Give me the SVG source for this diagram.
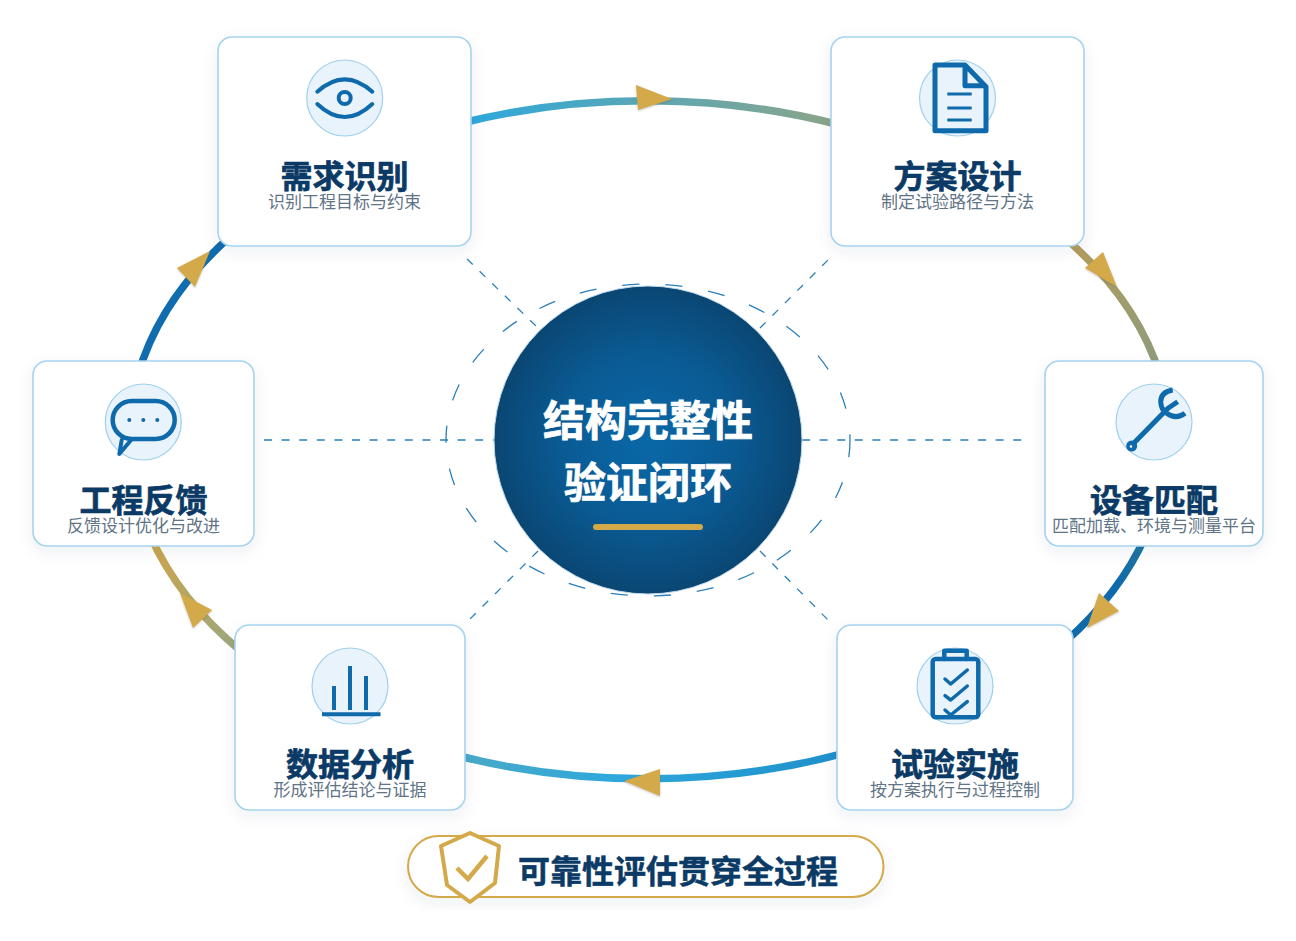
<svg xmlns="http://www.w3.org/2000/svg" width="1296" height="941" viewBox="0 0 1296 941">
<style>
text{font-family:"Noto Sans CJK SC","Noto Sans",sans-serif;text-anchor:middle}
.card{fill:#fff;stroke:#a6d3ee;stroke-width:1.6;filter:url(#sh)}
.disc{fill:#e8f3fb;stroke:#9fd0ee;stroke-width:1.2}
.t{font-size:32px;font-weight:700;fill:#0b3a66;stroke:#0b3a66;stroke-width:.7}
.c{font-size:42px;font-weight:700;fill:#fff;stroke:#fff;stroke-width:.7}
.s{font-size:17px;fill:#5f7486}
.ic{fill:none;stroke:#0f6aac;stroke-width:4;stroke-linecap:round;stroke-linejoin:round}
.arc{fill:none;stroke-width:7.5}
.dash{fill:none;stroke:#2a7fba;stroke-width:1.3;stroke-dasharray:8 9.6}
.ring{stroke-dasharray:17.2 26}
.head{fill:#d4a94a;filter:url(#hs)}
</style>
<defs>
<filter id="sh" x="-15%" y="-15%" width="130%" height="135%"><feDropShadow dx="0" dy="5" stdDeviation="8" flood-color="#0b3a66" flood-opacity=".07"/></filter>
<filter id="hs" x="-20%" y="-20%" width="140%" height="140%"><feDropShadow dx="0" dy="1" stdDeviation="1" flood-color="#555" flood-opacity=".35"/></filter>
<radialGradient id="core"><stop offset="0" stop-color="#0a68a8"/><stop offset=".55" stop-color="#0a5b94"/><stop offset="1" stop-color="#0a4673"/></radialGradient>
<linearGradient id="g1" gradientUnits="userSpaceOnUse" x1="472" y1="120" x2="830" y2="120"><stop offset="0" stop-color="#2ea8dc"/><stop offset="1" stop-color="#8aa58a"/></linearGradient>
<linearGradient id="g2" gradientUnits="userSpaceOnUse" x1="1073" y1="245" x2="1155" y2="360"><stop offset="0" stop-color="#b39c5c"/><stop offset="1" stop-color="#8f9c7c"/></linearGradient>
<linearGradient id="g3" gradientUnits="userSpaceOnUse" x1="1142" y1="546" x2="1073" y2="635"><stop offset="0" stop-color="#21749f"/><stop offset=".4" stop-color="#0f6aac"/><stop offset="1" stop-color="#0f6aac"/></linearGradient>
<linearGradient id="g4" gradientUnits="userSpaceOnUse" x1="840" y1="770" x2="465" y2="770"><stop offset="0" stop-color="#1e90cb"/><stop offset=".6" stop-color="#2ea8dc"/><stop offset="1" stop-color="#4aa9c8"/></linearGradient>
<linearGradient id="g5" gradientUnits="userSpaceOnUse" x1="234" y1="645" x2="154" y2="546"><stop offset="0" stop-color="#9ca87c"/><stop offset="1" stop-color="#cba44c"/></linearGradient>
</defs>
<rect width="1296" height="941" fill="#fff"/>
<g id="connectors">
<path class="dash" d="M264 440H494M802 440H1030M467 259L538 328M760 328L830 258M538 551L467 622M760 551L832 624"/>
<ellipse class="dash ring" cx="648" cy="440" rx="202" ry="156"/>
<path class="arc" stroke="url(#g1)" d="M462 123A520 339 0 0 1 840 125"/>
<path class="arc" stroke="url(#g2)" d="M1065 238A520 339 0 0 1 1160 375"/>
<path class="arc" stroke="url(#g3)" d="M1146 535A520 339 0 0 1 1065 642"/>
<path class="arc" stroke="url(#g4)" d="M845 753A520 339 0 0 1 455 755"/>
<path class="arc" stroke="url(#g5)" d="M242 652A520 339 0 0 1 150 535"/>
<path class="arc" stroke="#0f6cae" d="M138 375A520 339 0 0 1 232 235"/>
<polygon class="head" points="636,85 672,99 638,110"/>
<polygon class="head" points="1103,252 1085,268 1117,287"/>
<polygon class="head" points="1099,593 1119,611 1087,628"/>
<polygon class="head" points="660,769 624,781 660,796"/>
<polygon class="head" points="180,593 212,610 193,628"/>
<polygon class="head" points="177,268 210,251 195,287"/>
</g>
<g id="core-node">
<circle cx="648" cy="440" r="154" fill="url(#core)" stroke="#bcd9ec" stroke-width="1"/>
<text class="c" x="648" y="436">结构完整性</text>
<text class="c" x="648" y="498">验证闭环</text>
<rect x="593" y="524" width="110" height="6" rx="3" fill="#d4a94a"/>
</g>
<g id="node-need">
<rect class="card" x="218" y="37" width="253" height="209" rx="14"/>
<circle class="disc" cx="344.7" cy="98" r="38"/>
<path class="ic" d="M317.3 91.7Q344.7 67 372.3 91.7M317.3 104Q344.7 130 372.3 104"/>
<circle class="ic" cx="344.7" cy="98" r="6"/>
<text class="t" x="344.5" y="188">需求识别</text><text class="s" x="344.5" y="208">识别工程目标与约束</text>
</g>
<g id="node-plan">
<rect class="card" x="831" y="37" width="253" height="209" rx="14"/>
<circle class="disc" cx="957.5" cy="98" r="38"/>
<path class="ic" style="stroke-width:5;fill:#e8f3fb;stroke-linecap:butt" d="M935 65H965L986 86.7V130.7H935ZM965 65V85.7H986"/>
<path class="ic" style="stroke-width:3;stroke-linecap:butt" d="M947.3 94H971.7M947.3 108H971.7M947.3 120H971.7"/>
<text class="t" x="957.5" y="188">方案设计</text><text class="s" x="957.5" y="208">制定试验路径与方法</text>
</g>
<g id="node-equip">
<rect class="card" x="1045" y="361" width="218" height="185" rx="14"/>
<circle class="disc" cx="1154" cy="422" r="38"/>
<path class="ic" style="stroke-width:5;stroke-linecap:butt" d="M1131 446L1168 408.3L1177.7 401.7M1172.7 390Q1160.7 392 1160.7 401.7Q1161 410 1166.7 413.3Q1176 420 1185 413.3"/>
<circle cx="1131.7" cy="446" r="5.5" fill="#0f6aac"/><circle cx="1131" cy="446.5" r="1.3" fill="#fff"/>
<text class="t" x="1154" y="512">设备匹配</text><text class="s" x="1154" y="532">匹配加载、环境与测量平台</text>
</g>
<g id="node-exec">
<rect class="card" x="837" y="625" width="236" height="185" rx="14"/>
<circle class="disc" cx="955" cy="686" r="38"/>
<path class="ic" style="stroke-width:4.5" d="M944.3 659V650.7H966.7V659"/>
<rect class="ic" style="stroke-width:4.5" x="932.7" y="659" width="45.6" height="58.3" rx="3"/>
<path class="ic" style="stroke-width:3.5" d="M945 679L950.7 684L967.3 670M945 695.7L950.7 700L967.3 686M945 710L950.7 715L967.3 701.7"/>
<text class="t" x="955" y="776">试验实施</text><text class="s" x="955" y="796">按方案执行与过程控制</text>
</g>
<g id="node-data">
<rect class="card" x="235" y="625" width="230" height="185" rx="14"/>
<circle class="disc" cx="350" cy="686" r="38"/>
<path class="ic" style="stroke-linecap:butt" d="M334 686V710M350 666V710M366 676V710M322 714.3H380.5"/>
<text class="t" x="350" y="776">数据分析</text><text class="s" x="350" y="796">形成评估结论与证据</text>
</g>
<g id="node-feedback">
<rect class="card" x="33" y="361" width="221" height="185" rx="14"/>
<circle class="disc" cx="143.3" cy="422" r="38"/>
<path class="ic" d="M121.7 440L119.3 454L131.7 439.3"/>
<rect class="ic" style="stroke-width:4.5" x="112.7" y="401" width="62" height="38" rx="19"/>
<g fill="#0f6aac"><circle cx="129.3" cy="420" r="2"/><circle cx="143.3" cy="420" r="2"/><circle cx="157.3" cy="420" r="2"/></g>
<text class="t" x="143.5" y="512">工程反馈</text><text class="s" x="143.5" y="532">反馈设计优化与改进</text>
</g>
<g id="banner">
<rect x="408" y="836" width="475.5" height="61" rx="30.5" fill="#fff" stroke="#d4a94a" stroke-width="2" filter="url(#sh)"/>
<path d="M470 833L499 846L495 883L470 902L447 885L441 846Z" fill="#fff" stroke="#d4a94a" stroke-width="4" stroke-linejoin="round"/>
<path d="M457 868L468 879L487 856" fill="none" stroke="#d4a94a" stroke-width="4.5"/>
<text x="678" y="883" font-size="32" font-weight="700" fill="#0b3a66" stroke="#0b3a66" stroke-width=".5">可靠性评估贯穿全过程</text>
</g>
</svg>
